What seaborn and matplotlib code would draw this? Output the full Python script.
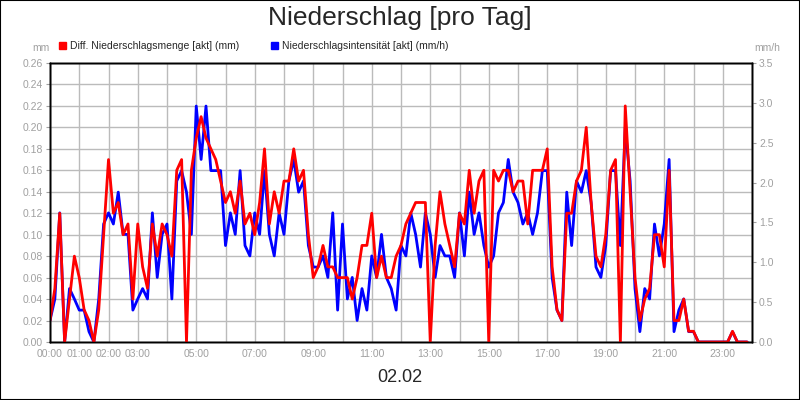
import matplotlib
matplotlib.use("Agg")
import matplotlib.pyplot as plt
import numpy as np
import pandas as pd
import seaborn as sns

# 10-minute samples, 00:00 .. 23:50
menge_mm = [
    0.02, 0.05, 0.12, 0.00, 0.04, 0.08,
    0.06, 0.03, 0.02, 0.00, 0.03, 0.10,
    0.17, 0.12, 0.13, 0.10, 0.11, 0.04,
    0.11, 0.07, 0.05, 0.11, 0.08, 0.11,
    0.10, 0.08, 0.16, 0.17, 0.00, 0.16,
    0.19, 0.21, 0.19, 0.18, 0.17, 0.15,
    0.13, 0.14, 0.12, 0.15, 0.11, 0.12,
    0.10, 0.13, 0.18, 0.11, 0.14, 0.12,
    0.15, 0.15, 0.18, 0.15, 0.16, 0.10,
    0.06, 0.07, 0.09, 0.07, 0.07, 0.06,
    0.06, 0.06, 0.04, 0.06, 0.09, 0.09,
    0.12, 0.06, 0.08, 0.06, 0.06, 0.08,
    0.09, 0.11, 0.12, 0.13, 0.13, 0.13,
    0.00, 0.09, 0.14, 0.11, 0.09, 0.07,
    0.12, 0.11, 0.16, 0.12, 0.15, 0.16,
    0.00, 0.16, 0.15, 0.16, 0.16, 0.14,
    0.15, 0.15, 0.11, 0.16, 0.16, 0.16,
    0.18, 0.07, 0.03, 0.02, 0.12, 0.12,
    0.15, 0.16, 0.20, 0.13, 0.08, 0.07,
    0.10, 0.16, 0.17, 0.00, 0.22, 0.14,
    0.06, 0.02, 0.04, 0.05, 0.10, 0.10,
    0.07, 0.16, 0.02, 0.02, 0.04, 0.01,
    0.01, 0.00, 0.00, 0.00, 0.00, 0.00,
    0.00, 0.00, 0.01, 0.00, 0.00, 0.00,
]

intensitaet_mmh = [
    0.27, 0.54, 1.62, 0.00, 0.67, 0.54,
    0.40, 0.40, 0.13, 0.00, 0.54, 1.48,
    1.62, 1.48, 1.88, 1.35, 1.35, 0.40,
    0.54, 0.67, 0.54, 1.62, 0.81, 1.35,
    1.48, 0.54, 2.02, 2.15, 1.88, 1.35,
    2.96, 2.29, 2.96, 2.15, 2.15, 2.15,
    1.21, 1.62, 1.35, 2.15, 1.21, 1.08,
    1.62, 1.35, 2.15, 1.35, 1.08, 1.62,
    1.35, 2.02, 2.29, 1.88, 2.02, 1.21,
    0.94, 0.94, 1.08, 0.81, 1.62, 0.40,
    1.48, 0.54, 0.81, 0.27, 0.67, 0.40,
    1.08, 0.81, 1.35, 0.81, 0.67, 0.40,
    1.21, 1.08, 1.62, 1.35, 0.94, 1.62,
    1.35, 0.81, 1.21, 1.08, 1.08, 0.81,
    1.62, 1.08, 1.88, 1.35, 1.62, 1.21,
    0.94, 1.08, 1.62, 1.75, 2.29, 1.88,
    1.75, 1.48, 1.62, 1.35, 1.62, 2.15,
    2.15, 0.81, 0.40, 0.27, 1.88, 1.21,
    2.02, 1.88, 2.15, 1.75, 0.94, 0.81,
    1.21, 2.15, 2.15, 1.21, 2.69, 2.02,
    0.67, 0.13, 0.67, 0.54, 1.48, 1.08,
    1.48, 2.29, 0.13, 0.40, 0.54, 0.13,
    0.13, 0.00, 0.00, 0.00, 0.00, 0.00,
    0.00, 0.00, 0.13, 0.00, 0.00, 0.00,
]

hour_ticks = list(range(25))
hour_labels = ["00:00", "01:00", "02:00", "03:00", "", "05:00", "", "07:00", "",
               "09:00", "", "11:00", "", "13:00", "", "15:00", "", "17:00", "",
               "19:00", "", "21:00", "", "23:00", ""]

df = pd.DataFrame({
    "hour": np.arange(len(menge_mm)) / 6.0,
    "menge": menge_mm,
    "intens": intensitaet_mmh,
})

sns.set_style("white")
plt.rcParams["font.family"] = "Liberation Sans"
fig = plt.figure(figsize=(8, 4), dpi=100)
ax = fig.add_axes([0.0625, 0.145, 0.8775, 0.6975])
ax2 = ax.twinx()
ax3 = ax.twinx()

grey = "#a0a0a0"
ax.set_xlim(0, 24)
ax.set_ylim(0, 0.26)
ax.set_yticks(np.arange(0, 0.261, 0.02))
ax.set_yticklabels([f"{v:.2f}" for v in np.arange(0, 0.261, 0.02)])
ax.set_xticks(hour_ticks)
ax.set_xticklabels(hour_labels)
ax.grid(True, color="#bbbbbb", linewidth=1)
ax.tick_params(axis="both", colors=grey, labelsize=7.5, length=3, pad=2)

sns.lineplot(data=df, x="hour", y="intens", ax=ax2, color="#0000ff", linewidth=2)
ax2.set_ylim(0, 3.5)
ax2.set_yticks(np.arange(0, 3.51, 0.5))
ax2.set_yticklabels([f"{v:.1f}" for v in np.arange(0, 3.51, 0.5)])
ax2.tick_params(axis="y", colors=grey, labelsize=7.5, length=3, pad=2)
ax2.set_ylabel("")

sns.lineplot(data=df, x="hour", y="menge", ax=ax3, color="#ff0000", linewidth=2)
ax3.set_ylim(0, 0.26)
ax3.set_yticks([])
ax3.set_ylabel("")
ax.set_xlabel("")
ax.set_ylabel("")
ax3.set_xlim(0, 24)

for a in (ax, ax2, ax3):
    for s in a.spines.values():
        s.set_color("black")
        s.set_linewidth(1)

fig.text(0.5, 0.955, "Niederschlag [pro Tag]", ha="center", va="center", fontsize=19)
fig.text(0.5, 0.055, "02.02", ha="center", va="center", fontsize=13)
fig.text(0.04, 0.88, "mm", ha="left", va="center", fontsize=7.5, color=grey)
fig.text(0.975, 0.88, "mm/h", ha="right", va="center", fontsize=7.5, color=grey)

fig.patches.append(plt.Rectangle((0.074, 0.877), 0.009, 0.018, color="#ff0000",
                                 transform=fig.transFigure, figure=fig))
fig.text(0.087, 0.886, "Diff. Niederschlagsmenge [akt] (mm)", ha="left", va="center", fontsize=7.5)
fig.patches.append(plt.Rectangle((0.339, 0.877), 0.009, 0.018, color="#0000ff",
                                 transform=fig.transFigure, figure=fig))
fig.text(0.352, 0.886, "Niederschlagsintensität [akt] (mm/h)", ha="left", va="center", fontsize=7.5)

fig.patches.append(plt.Rectangle((0.0006, 0.0012), 0.9988, 0.9976, fill=False,
                                 edgecolor="black", linewidth=1.5,
                                 transform=fig.transFigure, figure=fig))

fig.savefig("out.png", dpi=100)
